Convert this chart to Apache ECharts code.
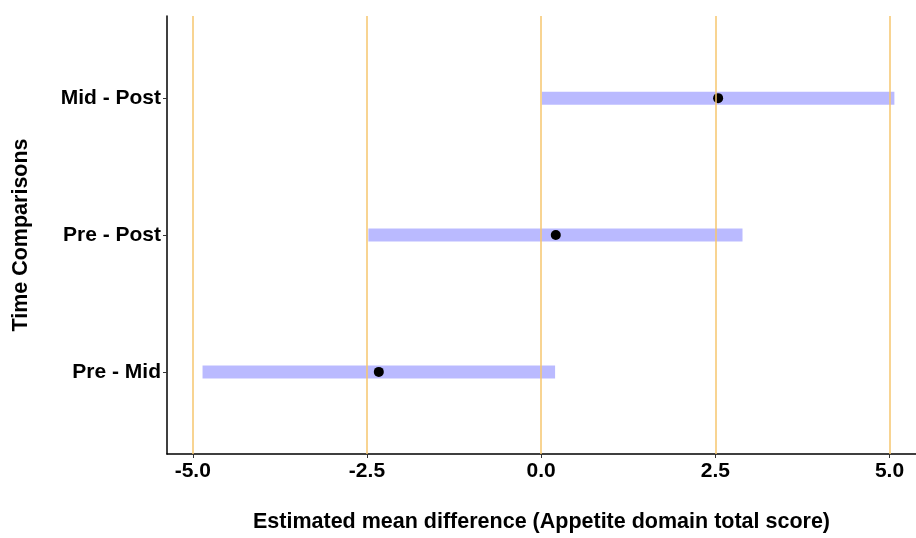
<!DOCTYPE html>
<html>
<head>
<meta charset="utf-8">
<style>
  html, body { margin: 0; padding: 0; background: #fff; overflow: hidden; }
  #chart { width: 916px; height: 538px; }
</style>
<script src="https://cdn.jsdelivr.net/npm/echarts@6/dist/echarts.min.js"></script>
</head>
<body>
<div id="chart"></div>
<script>
// Pairwise comparisons, bottom to top
const comparisons = ['Pre - Mid', 'Pre - Post', 'Mid - Post'];
const estimates = [-2.33, 0.21, 2.54];
const lowerCI = [-4.86, -2.48, 0.01];
const upperCI = [0.20, 2.89, 5.07];
const xTicks = [-5.0, -2.5, 0.0, 2.5, 5.0];

const FONT = 'Liberation Sans, Arial, Helvetica, sans-serif';
const rowPos = comparisons.map((_, i) => i + 1);

const intervalData = comparisons.map((_, i) => [lowerCI[i], upperCI[i], rowPos[i]]);
const pointData = comparisons.map((_, i) => [estimates[i], rowPos[i]]);

const chart = echarts.init(document.getElementById('chart'), null, { renderer: 'canvas' });

chart.setOption({
  animation: false,
  backgroundColor: '#ffffff',
  grid: { left: 167, right: 0, top: 16, bottom: 78, containLabel: false },
  xAxis: {
    type: 'value',
    min: -5.37,
    max: 5.38,
    name: 'Estimated mean difference (Appetite domain total score)',
    nameLocation: 'middle',
    nameGap: 57,
    nameTextStyle: { fontFamily: FONT, fontWeight: 'bold', fontSize: 21.5, color: '#000' },
    axisLine: { show: true, onZero: false, lineStyle: { color: '#000', width: 1.5 } },
    axisTick: { show: true, length: 4, customValues: xTicks, lineStyle: { color: '#333', width: 1 } },
    axisLabel: {
      customValues: xTicks,
      formatter: v => v.toFixed(1),
      fontFamily: FONT, fontWeight: 'bold', fontSize: 21, color: '#000', margin: 7
    },
    splitLine: { show: false }
  },
  yAxis: {
    type: 'value',
    min: 0.4,
    max: 3.6,
    name: 'Time Comparisons',
    nameLocation: 'middle',
    nameGap: 135,
    nameRotate: 90,
    nameTextStyle: { fontFamily: FONT, fontWeight: 'bold', fontSize: 21.5, color: '#000' },
    axisLine: { show: true, onZero: false, lineStyle: { color: '#000', width: 1.5 } },
    axisTick: { show: true, length: 4, customValues: rowPos, lineStyle: { color: '#333', width: 1 } },
    axisLabel: {
      customValues: rowPos,
      formatter: v => comparisons[Math.round(v) - 1] || '',
      fontFamily: FONT, fontWeight: 'bold', fontSize: 21, color: '#000', margin: 6
    },
    splitLine: { show: false }
  },
  series: [
    {
      // vertical reference lines at the tick positions
      type: 'line',
      data: [],
      z: 1,
      silent: true,
      markLine: {
        silent: true,
        symbol: ['none', 'none'],
        label: { show: false },
        lineStyle: { color: '#F6C66E', width: 1.5, type: 'solid', opacity: 1 },
        data: xTicks.map(v => ({ xAxis: v }))
      }
    },
    {
      // confidence interval bands
      type: 'custom',
      z: 2,
      data: intervalData,
      renderItem: function (params, api) {
        const p0 = api.coord([api.value(0), api.value(2)]);
        const p1 = api.coord([api.value(1), api.value(2)]);
        const h = 13;
        return {
          type: 'rect',
          shape: { x: p0[0], y: p0[1] - h / 2, width: p1[0] - p0[0], height: h },
          style: { fill: 'rgba(0,0,255,0.27)' }
        };
      }
    },
    {
      // point estimates
      type: 'scatter',
      z: 3,
      data: pointData,
      symbol: 'circle',
      symbolSize: 10,
      itemStyle: { color: '#000', opacity: 1 }
    }
  ]
});
</script>
</body>
</html>
